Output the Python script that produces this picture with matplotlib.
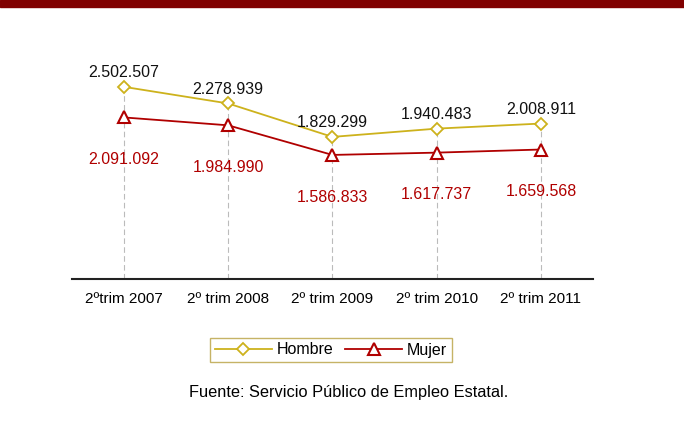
import matplotlib
matplotlib.use('Agg')

import matplotlib.pyplot as plt
from matplotlib.patches import Rectangle

categorias = ["2ºtrim 2007", "2º trim 2008", "2º trim 2009", "2º trim 2010", "2º trim 2011"]
hombre = [2502507, 2278939, 1829299, 1940483, 2008911]
mujer = [2091092, 1984990, 1586833, 1617737, 1659568]

def fmt(v):
    # separador de miles con punto
    return f"{v:,}".replace(",", ".")

plt.rcParams['font.family'] = ['Liberation Sans', 'DejaVu Sans']

col_h = "#CDB21C"
col_m = "#B00000"

fig = plt.figure(figsize=(6.84, 4.26), dpi=100)
fig.patches.append(Rectangle((0, 1 - 7 / 426), 1, 7 / 426, transform=fig.transFigure,
                             color="#800000", zorder=0))

ax = fig.add_axes([0.105, 0.345, 0.762, 0.538])
x = list(range(len(categorias)))

for xi, v in zip(x, hombre):
    ax.plot([xi, xi], [-82000, v], color="#BBBBBB", lw=0.8, ls=(0, (5, 3)), zorder=1)

ax.plot(x, hombre, color=col_h, lw=1.3, marker="D", ms=6, mfc="white", mec=col_h,
        mew=1.3, label="Hombre", zorder=3)
ax.plot(x, mujer, color=col_m, lw=1.3, marker="^", ms=8, mfc="white", mec=col_m,
        mew=1.5, label="Mujer", zorder=3)

for xi, v in zip(x, hombre):
    ax.annotate(fmt(v), (xi, v), xytext=(0, 5), textcoords="offset points",
                ha="center", va="bottom", fontsize=11.5, color="#111111")
for xi, v in zip(x, mujer):
    ax.annotate(fmt(v), (xi, v), xytext=(0, -25), textcoords="offset points",
                ha="center", va="top", fontsize=11.5, color=col_m)

ax.set_xlim(-0.5, 4.5)
ax.set_ylim(-82000, 3000000)
ax.set_xticks(x)
ax.set_xticklabels(categorias, fontsize=11)
ax.tick_params(axis="x", length=0, pad=9)
ax.set_yticks([])
for s in ["left", "right", "top"]:
    ax.spines[s].set_visible(False)
ax.spines["bottom"].set_linewidth(1.5)
ax.spines["bottom"].set_color("#222222")

leg = ax.legend(loc="center", bbox_to_anchor=(331 / 684, 1 - 350 / 426),
                bbox_transform=fig.transFigure, ncol=2, fontsize=11.5, frameon=True,
                fancybox=False, handlelength=3.6, columnspacing=0.7, handletextpad=0.3,
                borderpad=0.3)
leg.get_frame().set_edgecolor("#B8A040")
leg.get_frame().set_linewidth(1.0)

fig.text(349 / 684, 1 - 393 / 426, "Fuente: Servicio Público de Empleo Estatal.",
         ha="center", va="center", fontsize=11.8)

plt.savefig("out.png", dpi=100)
